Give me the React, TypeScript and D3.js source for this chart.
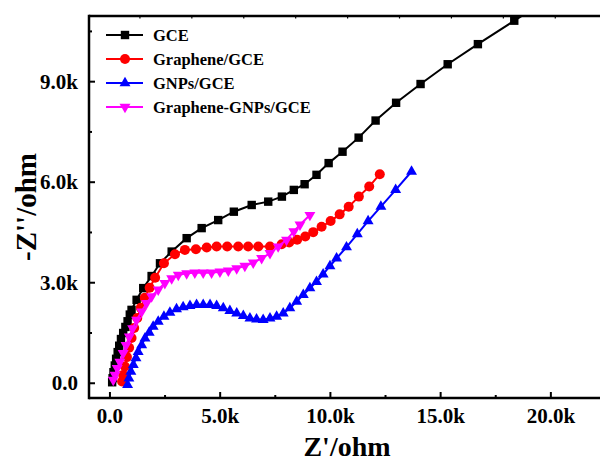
import React, { useRef, useEffect } from "react";
import * as d3 from "d3";

// Nyquist data (ohm)
const gceX = [100, 120, 160, 220, 280, 350, 420, 500, 600, 700, 800, 900, 980, 1210, 1510, 1890, 2270, 2800, 3480, 4160, 4910, 5620, 6430, 7180, 7800, 8340, 8830, 9370, 9920, 10550, 11280, 12050, 12980, 14090, 15320, 16690, 18340, 20100];
const gceY = [30, 150, 330, 530, 730, 930, 1120, 1320, 1500, 1680, 1850, 2050, 2190, 2490, 2840, 3200, 3580, 3930, 4330, 4630, 4870, 5120, 5320, 5420, 5570, 5770, 5940, 6220, 6570, 6910, 7330, 7840, 8370, 8930, 9520, 10120, 10820, 11550];

const grX = [550, 600, 680, 770, 870, 980, 1100, 1240, 1400, 1580, 1800, 2050, 2450, 2950, 3400, 3900, 4390, 4840, 5320, 5820, 6270, 6730, 7260, 7790, 8130, 8490, 8860, 9220, 9600, 10010, 10420, 10830, 11290, 11760, 12240];
const grY = [50, 250, 500, 780, 1060, 1350, 1650, 1950, 2250, 2550, 2850, 3150, 3580, 3850, 3980, 4000, 4050, 4080, 4080, 4080, 4080, 4080, 4080, 4150, 4200, 4280, 4380, 4510, 4670, 4840, 5040, 5270, 5570, 5870, 6240];

const gnpX = [800, 860, 950, 1060, 1180, 1280, 1440, 1590, 1780, 1960, 2190, 2450, 2720, 3020, 3320, 3630, 3930, 4230, 4540, 4840, 5140, 5440, 5750, 6050, 6350, 6650, 6950, 7260, 7560, 7860, 8160, 8470, 8770, 9070, 9370, 9670, 9980, 10280, 10730, 11220, 11710, 12290, 12960, 13680];
const gnpY = [-50, 150, 350, 550, 750, 940, 1140, 1340, 1510, 1690, 1840, 1990, 2110, 2210, 2270, 2310, 2340, 2340, 2340, 2310, 2240, 2160, 2090, 2010, 1940, 1910, 1890, 1940, 1990, 2090, 2240, 2440, 2640, 2840, 3030, 3250, 3500, 3730, 4060, 4450, 4840, 5270, 5770, 6320];

const mixX = [150, 230, 330, 450, 600, 730, 880, 1030, 1210, 1440, 1660, 1890, 2190, 2490, 2800, 3100, 3480, 3850, 4230, 4610, 4990, 5370, 5750, 6120, 6500, 6880, 7260, 7630, 8010, 8340, 8620, 9070];
const mixY = [100, 250, 450, 640, 900, 1140, 1390, 1640, 1890, 2140, 2390, 2590, 2790, 2990, 3130, 3230, 3280, 3300, 3300, 3300, 3330, 3360, 3430, 3500, 3600, 3730, 3880, 4080, 4280, 4530, 4730, 5020];

const seriesNames = ["GCE", "Graphene/GCE", "GNPs/GCE", "Graphene-GNPs/GCE"];
const seriesColors = ["#000000", "#ff0000", "#0000ff", "#ff00ff"];
const seriesMarkers = ["square", "circle", "up", "down"];

const xTickLabels = ["0.0", "5.0k", "10.0k", "15.0k", "20.0k"];
const yTickLabels = ["0.0", "3.0k", "6.0k", "9.0k"];

const font = "'Liberation Serif', 'Times New Roman', serif";

const Chart = () => {
    const ref = useRef(null);

    useEffect(() => {
        document.body.style.margin = "0";
        const svg = d3.select(ref.current);
        svg.selectAll("*").remove();

        const left = 89, right = 617, top = 16, bottom = 398;
        const x = d3.scaleLinear([-950, 23000], [left, right]);
        const y = d3.scaleLinear([-440, 10960], [bottom, top]);

        const series = [
            d3.zip(gceX, gceY),
            d3.zip(grX, grY),
            d3.zip(gnpX, gnpY),
            d3.zip(mixX, mixY),
        ];

        svg.append("clipPath").attr("id", "plotclip")
            .append("rect")
            .attr("x", left).attr("y", top)
            .attr("width", right - left).attr("height", bottom - top);

        const marker = (g, kind, color) => {
            if (kind === "circle") {
                g.append("circle").attr("r", 5).attr("fill", color);
            } else if (kind === "square") {
                g.append("rect").attr("x", -4.2).attr("y", -4.2).attr("width", 8.4).attr("height", 8.4).attr("fill", color);
            } else {
                g.append("path")
                    .attr("d", d3.symbol(d3.symbolTriangle, 52)())
                    .attr("transform", kind === "down" ? "rotate(180)" : null)
                    .attr("fill", color);
            }
        };

        const line = d3.line().x(d => x(d[0])).y(d => y(d[1]));
        const plot = svg.append("g").attr("clip-path", "url(#plotclip)");

        series.forEach((pts, i) => {
            const g = plot.append("g");
            g.append("path")
                .attr("d", line(pts))
                .attr("fill", "none")
                .attr("stroke", seriesColors[i])
                .attr("stroke-width", 2);
            g.selectAll("g.pt")
                .data(pts)
                .enter()
                .append("g")
                .attr("class", "pt")
                .attr("transform", d => `translate(${x(d[0])},${y(d[1])})`)
                .each(function () { marker(d3.select(this), seriesMarkers[i], seriesColors[i]); });
        });

        // frame
        const axisColor = "#000";
        svg.append("line").attr("x1", left).attr("x2", right).attr("y1", bottom).attr("y2", bottom)
            .attr("stroke", axisColor).attr("stroke-width", 2.5);
        svg.append("line").attr("x1", left).attr("x2", right).attr("y1", top).attr("y2", top)
            .attr("stroke", axisColor).attr("stroke-width", 2.5);
        svg.append("line").attr("x1", left).attr("x2", left).attr("y1", top - 1.2).attr("y2", bottom + 1.2)
            .attr("stroke", axisColor).attr("stroke-width", 2.5);

        // bottom ticks (inward)
        const xMajor = d3.range(0, 22000, 5000);
        const xMinor = d3.range(2500, 23000, 5000);
        svg.selectAll("line.xmaj").data(xMajor).enter().append("line")
            .attr("x1", d => x(d)).attr("x2", d => x(d)).attr("y1", bottom).attr("y2", bottom - 6)
            .attr("stroke", axisColor).attr("stroke-width", 2);
        svg.selectAll("line.xmin").data(xMinor).enter().append("line")
            .attr("x1", d => x(d)).attr("x2", d => x(d)).attr("y1", bottom).attr("y2", bottom - 3)
            .attr("stroke", axisColor).attr("stroke-width", 2);
        svg.selectAll("text.xl").data(xMajor).enter().append("text")
            .attr("x", d => x(d)).attr("y", 423)
            .attr("text-anchor", "middle")
            .attr("font-family", font).attr("font-weight", "bold").attr("font-size", 21)
            .text((d, i) => xTickLabels[i]);

        // top ticks
        const xTop = d3.range(1360, 21000, 2355);
        svg.selectAll("line.xtop").data(xTop).enter().append("line")
            .attr("x1", d => x(d)).attr("x2", d => x(d)).attr("y1", top).attr("y2", top + 2.5)
            .attr("stroke", axisColor).attr("stroke-width", 1.2);

        // left ticks
        const yMajor = d3.range(0, 10000, 3000);
        const yMinor = d3.range(1500, 11000, 3000);
        svg.selectAll("line.ymaj").data(yMajor).enter().append("line")
            .attr("x1", left).attr("x2", left + 6).attr("y1", d => y(d)).attr("y2", d => y(d))
            .attr("stroke", axisColor).attr("stroke-width", 2);
        svg.selectAll("line.ymin").data(yMinor).enter().append("line")
            .attr("x1", left).attr("x2", left + 3).attr("y1", d => y(d)).attr("y2", d => y(d))
            .attr("stroke", axisColor).attr("stroke-width", 2);
        svg.selectAll("text.yl").data(yMajor).enter().append("text")
            .attr("x", 78).attr("y", d => y(d) + 7)
            .attr("text-anchor", "end")
            .attr("font-family", font).attr("font-weight", "bold").attr("font-size", 21)
            .text((d, i) => yTickLabels[i]);

        // axis titles
        svg.append("text")
            .attr("x", 347).attr("y", 456)
            .attr("text-anchor", "middle")
            .attr("font-family", font).attr("font-weight", "bold").attr("font-size", 28)
            .text("Z'/ohm");
        svg.append("text")
            .attr("transform", "translate(36,207) rotate(-90)")
            .attr("text-anchor", "middle")
            .attr("font-family", font).attr("font-weight", "bold").attr("font-size", 29)
            .text("-Z''/ohm");

        // legend
        const leg = svg.append("g");
        seriesNames.forEach((name, i) => {
            const ly = 35 + i * 24;
            leg.append("line").attr("x1", 106).attr("x2", 143).attr("y1", ly).attr("y2", ly)
                .attr("stroke", seriesColors[i]).attr("stroke-width", 2);
            const m = leg.append("g").attr("transform", `translate(125,${ly})`);
            marker(m, seriesMarkers[i], seriesColors[i]);
            leg.append("text")
                .attr("x", 153).attr("y", ly + 5.5)
                .attr("font-family", font).attr("font-weight", "bold").attr("font-size", 16.5)
                .text(name);
        });
    }, []);

    return (
        <svg ref={ref} width={600} height={461} style={{ display: "block", background: "#fff" }}></svg>
    );
};

export default function App() {
    return <Chart />;
}
